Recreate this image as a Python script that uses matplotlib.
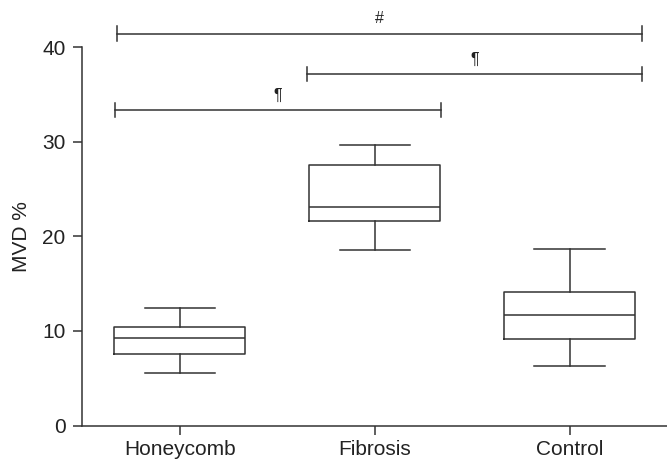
import matplotlib
matplotlib.use('Agg')
import matplotlib.pyplot as plt

plt.rcParams['font.family'] = ['Liberation Sans', 'DejaVu Sans']

categories = ['Honeycomb', 'Fibrosis', 'Control']
whislo = [5.59, 18.60, 6.33]
q1 = [7.56, 21.66, 9.12]
med = [9.22, 23.11, 11.72]
q3 = [10.45, 27.55, 14.08]
whishi = [12.40, 29.70, 18.67]

# significance brackets: (x start, x end, height, symbol)
brackets = [
    (0.678, 3.371, 41.45, '#'),
    (1.652, 3.371, 37.14, '\u00b6'),
    (0.668, 2.343, 33.37, '\u00b6'),
]

ink = '#333333'
lw = 1.1

fig = plt.figure(figsize=(6.67, 4.59), dpi=100)
ax = fig.add_axes([82.2 / 667, 33.5 / 459, 1 - 82.2 / 667, 1 - 33.5 / 459])

stats = []
for i, name in enumerate(categories):
    stats.append({'label': name, 'whislo': whislo[i], 'q1': q1[i], 'med': med[i],
                  'q3': q3[i], 'whishi': whishi[i], 'fliers': []})

line = dict(color=ink, linewidth=lw)
ax.bxp(stats, positions=[1, 2, 3], widths=0.67, showfliers=False,
       boxprops=line, medianprops=line, whiskerprops=line, capprops=line,
       capwidths=0.36)

for x0, x1, y, sym in brackets:
    ax.plot([x0, x1], [y, y], color=ink, lw=lw, clip_on=False)
    ax.plot([x0, x0], [y - 0.75, y + 0.75], color=ink, lw=lw, clip_on=False)
    ax.plot([x1, x1], [y - 0.75, y + 0.75], color=ink, lw=lw, clip_on=False)
    ax.text((x0 + x1) / 2, y + 1.55, sym, ha='center', va='center',
            fontsize=11.5, color='#222222')

ax.set_xlim(0.5, 3.5)
ax.set_ylim(0, 45)
ax.set_yticks([0, 10, 20, 30, 40])
ax.set_xticks([1, 2, 3])
ax.set_xticklabels(categories)

ax.spines['top'].set_visible(False)
ax.spines['right'].set_visible(False)
ax.spines['left'].set_bounds(0, 40)
for s in ('left', 'bottom'):
    ax.spines[s].set_color(ink)
    ax.spines[s].set_linewidth(lw)

ax.tick_params(axis='both', direction='out', length=6.5, width=lw, color=ink,
               labelsize=15, labelcolor='#222222')
ax.tick_params(axis='y', pad=5.5)
ax.tick_params(axis='x', pad=4)

ax.set_ylabel('MVD %', fontsize=15, color='#222222')
ax.yaxis.set_label_coords(-0.088, 20 / 45)

fig.savefig('out.png', dpi=100)
